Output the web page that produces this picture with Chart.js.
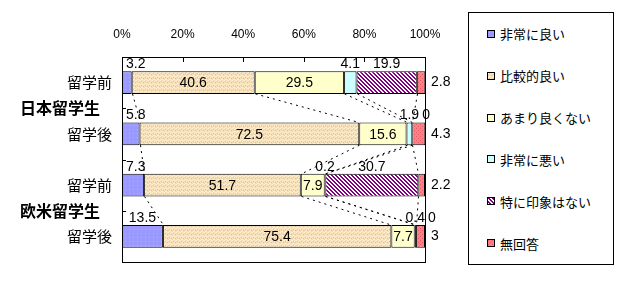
<!DOCTYPE html>
<html lang="ja">
<head>
<meta charset="utf-8">
<script src="https://cdn.jsdelivr.net/npm/chart.js@4/dist/chart.umd.min.js"></script>
<style>
  body { margin: 0; background: #fff; }
  #wrap { position: relative; width: 621px; height: 281px; }
  #legend {
    position: absolute; left: 468px; top: 12px; width: 146px; height: 253px;
    box-sizing: border-box; border: 1px solid #000; background: #fff;
    display: flex; flex-direction: column; justify-content: space-around;
    font: 13px "Noto Sans CJK JP", sans-serif; color: #000;
  }
  .item { display: flex; align-items: center; padding-left: 18px; height: 20px; }
  .sw { width: 6px; height: 6px; border: 1px solid #000; margin-right: 5px; }
</style>
</head>
<body>
<div id="wrap">
  <canvas id="chart" width="621" height="281"></canvas>
  <div id="legend"></div>
</div>
<script>
// ===== Data =====
const categories = ['留学前', '留学後', '留学前', '留学後'];
const groups = ['日本留学生', '欧米留学生'];
const seriesNames = ['非常に良い', '比較的良い', 'あまり良くない', '非常に悪い', '特に印象はない', '無回答'];
const veryGood = [3.2, 5.8, 7.3, 13.5];
const fairlyGood = [40.6, 72.5, 51.7, 75.4];
const notGood = [29.5, 15.6, 7.9, 7.7];
const veryBad = [4.1, 1.9, 0.2, 0.4];
const noImpression = [19.9, 0, 30.7, 0];
const noAnswer = [2.8, 4.3, 2.2, 3];
const xTicks = [0, 20, 40, 60, 80, 100];

const seriesValues = [veryGood, fairlyGood, notGood, veryBad, noImpression, noAnswer];
// which series put their labels above the bar (the rest go inside, last one to the right)
const labelAbove = [true, false, false, true, true, false];

// ===== Fill patterns (Excel-like) =====
function tile(draw) {
  const c = document.createElement('canvas');
  c.width = c.height = 4;
  const g = c.getContext('2d');
  draw(g);
  return c;
}
function px(g, color, pts) {
  g.fillStyle = color;
  pts.forEach(([x, y]) => g.fillRect(x, y, 1, 1));
}
const tiles = [
  tile(g => { g.fillStyle = '#9999ff'; g.fillRect(0, 0, 4, 4); px(g, '#ff88ff', [[1, 1]]); }),
  tile(g => {
    g.fillStyle = '#f4dcb4'; g.fillRect(0, 0, 4, 4);
    px(g, '#fff2d6', [[0, 0], [2, 1], [1, 3]]);
    px(g, '#e6c49c', [[3, 2], [1, 1]]);
    px(g, '#f8ecc4', [[2, 3], [3, 0]]);
  }),
  tile(g => { g.fillStyle = '#ffffcc'; g.fillRect(0, 0, 4, 4); }),
  tile(g => { g.fillStyle = '#ccffff'; g.fillRect(0, 0, 4, 4); }),
  tile(g => {
    g.fillStyle = '#ffffff'; g.fillRect(0, 0, 4, 4);
    for (let i = 0; i < 4; i++) px(g, '#800080', [[i, i], [(i + 1) % 4, i]]);
  }),
  tile(g => { g.fillStyle = '#ff8080'; g.fillRect(0, 0, 4, 4); px(g, '#e05a6a', [[0, 0], [2, 2]]); }),
];

const canvas = document.getElementById('chart');
const ctx = canvas.getContext('2d');
const fills = tiles.map(t => ctx.createPattern(t, 'repeat'));

// ===== HTML legend =====
const legendEl = document.getElementById('legend');
seriesNames.forEach((name, i) => {
  const item = document.createElement('div');
  item.className = 'item';
  const sw = document.createElement('span');
  sw.className = 'sw';
  sw.style.backgroundImage = 'url(' + tiles[i].toDataURL() + ')';
  const label = document.createElement('span');
  label.textContent = name;
  item.appendChild(sw);
  item.appendChild(label);
  legendEl.appendChild(item);
});

// ===== Plugin: frame, series lines, labels =====
const numFont = '14px "Liberation Sans", Arial, sans-serif';

const decorations = {
  id: 'decorations',
  afterDatasetsDraw(chart) {
    const { ctx, chartArea: area, scales: { x } } = chart;
    const base = chart.getDatasetMeta(0).data;
    ctx.save();

    // series lines between adjacent bars
    ctx.strokeStyle = '#000';
    ctx.lineWidth = 1;
    ctx.setLineDash([2, 4]);
    for (let i = 0; i < categories.length - 1; i++) {
      const yBottom = base[i].y + base[i].height / 2;
      const yTop = base[i + 1].y - base[i + 1].height / 2;
      let cumA = 0, cumB = 0;
      for (let d = 0; d < seriesValues.length - 1; d++) {
        cumA += seriesValues[d][i];
        cumB += seriesValues[d][i + 1];
        ctx.beginPath();
        ctx.moveTo(Math.round(x.getPixelForValue(cumA)) + 0.5, yBottom);
        ctx.lineTo(Math.round(x.getPixelForValue(cumB)) + 0.5, yTop);
        ctx.stroke();
      }
    }
    ctx.setLineDash([]);

    // plot frame
    ctx.strokeRect(Math.round(area.left) + 0.5, Math.round(area.top) + 0.5,
      Math.round(area.width), Math.round(area.height));

    // inward tick marks
    ctx.beginPath();
    xTicks.slice(1, -1).forEach(v => {
      const px = Math.round(x.getPixelForValue(v)) + 0.5;
      ctx.moveTo(px, area.top);
      ctx.lineTo(px, area.top + 5);
    });
    for (let i = 1; i < categories.length; i++) {
      const py = Math.round((base[i - 1].y + base[i].y) / 2) + 0.5;
      ctx.moveTo(area.left, py);
      ctx.lineTo(area.left + 4, py);
    }
    ctx.stroke();

    // data labels
    ctx.font = numFont;
    ctx.fillStyle = '#000';
    ctx.textBaseline = 'middle';
    for (let i = 0; i < categories.length; i++) {
      let lastRight = -Infinity;
      seriesValues.forEach((vals, d) => {
        const v = vals[i];
        const el = chart.getDatasetMeta(d).data[i];
        const text = String(v);
        const w = ctx.measureText(text).width;
        if (d === seriesValues.length - 1) {
          ctx.textAlign = 'left';
          ctx.fillText(text, area.right + 6, el.y);
          return;
        }
        const cx = (el.base + el.x) / 2;
        if (labelAbove[d]) {
          let left = Math.max(cx - w / 2, area.left + 4, lastRight + 3);
          ctx.textAlign = 'left';
          ctx.fillText(text, left, el.y - el.height / 2 - 7);
          lastRight = left + w;
        } else {
          ctx.textAlign = 'center';
          ctx.fillText(text, cx, el.y + 1);
        }
      });
    }

    // group labels
    ctx.font = 'bold 16px "Noto Sans CJK JP", sans-serif';
    ctx.textAlign = 'left';
    groups.forEach((g, k) => {
      const y = (base[k * 2].y + base[k * 2 + 1].y) / 2;
      ctx.fillText(g, 20, y);
    });
    ctx.restore();
  }
};

// ===== Chart =====
new Chart(canvas, {
  type: 'bar',
  data: {
    labels: categories,
    datasets: seriesNames.map((name, d) => ({
      label: name,
      data: seriesValues[d],
      backgroundColor: fills[d],
      borderColor: '#000',
      borderWidth: 1,
      borderSkipped: false,
      barPercentage: 0.44,
      categoryPercentage: 1,
    })),
  },
  options: {
    indexAxis: 'y',
    responsive: false,
    animation: false,
    layout: { padding: { top: 0, left: 0, right: 196, bottom: 19 } },
    plugins: { legend: { display: false }, tooltip: { enabled: false } },
    scales: {
      x: {
        position: 'top',
        stacked: true,
        min: 0,
        max: 100,
        afterBuildTicks: scale => { scale.ticks = xTicks.map(v => ({ value: v })); },
        afterFit: scale => { scale.height = 57; },
        grid: { display: false, drawTicks: false },
        border: { display: false },
        ticks: {
          padding: 15,
          color: '#000',
          font: { family: '"Liberation Sans", Arial, sans-serif', size: 12 },
          callback: v => v + '%',
        },
      },
      y: {
        stacked: true,
        afterFit: scale => { scale.width = 122; },
        grid: { display: false, drawTicks: false },
        border: { display: false },
        ticks: {
          padding: 10,
          color: '#000',
          font: { family: '"Noto Sans CJK JP", sans-serif', size: 15 },
        },
      },
    },
  },
  plugins: [decorations],
});
</script>
</body>
</html>
